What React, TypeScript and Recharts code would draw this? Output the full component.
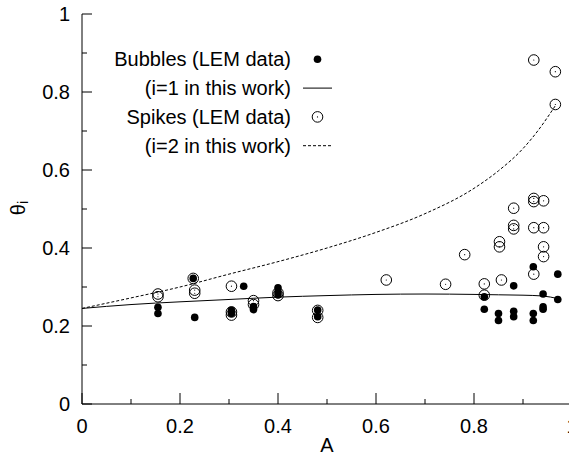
import { ComposedChart, Scatter, Line, XAxis, YAxis } from "recharts";

// ticks (minor every 0.1, labelled every 0.2)
const xTicks = [0, 0.1, 0.2, 0.3, 0.4, 0.5, 0.6, 0.7, 0.8, 0.9, 1];
const yTicks = [0, 0.1, 0.2, 0.3, 0.4, 0.5, 0.6, 0.7, 0.8, 0.9, 1];

// LEM data, bubbles
const bubbleA = [
  0.155, 0.155, 0.227, 0.23, 0.33, 0.305, 0.305, 0.35, 0.35, 0.4, 0.4, 0.4,
  0.481, 0.481, 0.821, 0.821, 0.85, 0.85, 0.881, 0.881, 0.881, 0.921, 0.921,
  0.921, 0.941, 0.941, 0.941, 0.971, 0.971,
];
const bubbleTheta = [
  0.248, 0.232, 0.322, 0.222, 0.302, 0.24, 0.232, 0.25, 0.242, 0.298, 0.288,
  0.28, 0.241, 0.224, 0.275, 0.243, 0.232, 0.214, 0.303, 0.238, 0.224, 0.352,
  0.232, 0.214, 0.282, 0.249, 0.243, 0.333, 0.268,
];

// LEM data, spikes
const spikeA = [
  0.155, 0.155, 0.227, 0.23, 0.23, 0.305, 0.305, 0.305, 0.35, 0.35, 0.4, 0.4,
  0.481, 0.481, 0.621, 0.742, 0.781, 0.821, 0.821, 0.852, 0.852, 0.856, 0.881,
  0.881, 0.881, 0.922, 0.922, 0.922, 0.922, 0.922, 0.942, 0.942, 0.942, 0.942,
  0.966, 0.966,
];
const spikeTheta = [
  0.282, 0.275, 0.322, 0.292, 0.284, 0.302, 0.236, 0.228, 0.265, 0.255, 0.285,
  0.278, 0.24, 0.222, 0.318, 0.307, 0.383, 0.308, 0.279, 0.416, 0.403, 0.318,
  0.502, 0.458, 0.449, 0.882, 0.527, 0.519, 0.452, 0.333, 0.521, 0.452, 0.403,
  0.378, 0.852, 0.768,
];

// model curves (this work)
const curve1A = [0, 0.1, 0.2, 0.3, 0.4, 0.5, 0.6, 0.7, 0.8, 0.85, 0.9, 0.94, 0.972];
const curve1Theta = [
  0.245, 0.255, 0.262, 0.268, 0.274, 0.278, 0.281, 0.282, 0.281, 0.28, 0.279,
  0.277, 0.27,
];
const curve2A = [0, 0.1, 0.2, 0.3, 0.4, 0.5, 0.6, 0.7, 0.8, 0.85, 0.9, 0.93, 0.966];
const curve2Theta = [
  0.245, 0.272, 0.3, 0.333, 0.365, 0.4, 0.44, 0.488, 0.553, 0.598, 0.655, 0.7,
  0.765,
];

const legendLabels = [
  "Bubbles (LEM data)",
  "(i=1 in this work)",
  "Spikes (LEM data)",
  "(i=2 in this work)",
];

const toRows = (a: number[], t: number[]) => a.map((v, i) => ({ a: v, t: t[i] }));

const bubbles = toRows(bubbleA, bubbleTheta);
const spikes = toRows(spikeA, spikeTheta);
const curve1 = toRows(curve1A, curve1Theta);
const curve2 = toRows(curve2A, curve2Theta);

const FONT = "'Liberation Sans', Arial, Helvetica, sans-serif";
const FS = 20;

const isMajor = (v: number) => Math.round(v * 10) % 2 === 0;
const fmt = (v: number) => (v === 0 || v === 1 ? String(v) : v.toFixed(1));

const LeftTick = (props: any) => {
  const { x, y, payload } = props;
  const ax = x + 12;
  const len = isMajor(payload.value) ? 10 : 5;
  return (
    <g>
      <line x1={ax} y1={y} x2={ax + len} y2={y} stroke="#000" />
      {isMajor(payload.value) && (
        <text x={x} y={y} dy="0.35em" textAnchor="end" fontFamily={FONT} fontSize={FS} fill="#000">
          {fmt(payload.value)}
        </text>
      )}
    </g>
  );
};

const RightTick = (props: any) => {
  const { x, y, payload } = props;
  const len = isMajor(payload.value) ? 10 : 5;
  return <line x1={x} y1={y} x2={x - len} y2={y} stroke="#000" />;
};

const BottomTick = (props: any) => {
  const { x, y, payload } = props;
  const ay = y - 22;
  const len = isMajor(payload.value) ? 11 : 5;
  return (
    <g>
      <line x1={x} y1={ay} x2={x} y2={ay - len} stroke="#000" />
      {isMajor(payload.value) && (
        <text x={x} y={y} dy="0.35em" textAnchor="middle" fontFamily={FONT} fontSize={FS} fill="#000">
          {fmt(payload.value)}
        </text>
      )}
    </g>
  );
};

const TopTick = (props: any) => {
  const { x, y, payload } = props;
  const len = isMajor(payload.value) ? 11 : 5;
  return <line x1={x} y1={y} x2={x} y2={y + len} stroke="#000" />;
};

const BubbleDot = (props: any) => {
  const { cx, cy } = props;
  return <circle cx={cx} cy={cy} r={3.8} fill="#000" />;
};

const SpikeDot = (props: any) => {
  const { cx, cy } = props;
  return (
    <g>
      <circle cx={cx} cy={cy} r={5.3} fill="none" stroke="#000" strokeWidth={1} />
      <circle cx={cx} cy={cy} r={0.6} fill="#000" />
    </g>
  );
};

// legend key, drawn inside the plot area (upper left)
const KeyBox = () => {
  const textRight = 291;
  const symX = 303;
  const rowTop = 59.3;
  const rowGap = 28.8;
  return (
    <g fontFamily={FONT} fontSize={FS} fill="#000">
      {legendLabels.map((label, i) => {
        const cy = rowTop + i * rowGap;
        return (
          <g key={label}>
            <text x={textRight} y={cy} dy="0.35em" textAnchor="end">
              {label}
            </text>
            {i === 0 && <BubbleDot cx={symX + 14.5} cy={cy} />}
            {i === 1 && <line x1={symX} y1={cy} x2={symX + 29} y2={cy} stroke="#000" />}
            {i === 2 && <SpikeDot cx={symX + 14.5} cy={cy} />}
            {i === 3 && (
              <line x1={symX} y1={cy} x2={symX + 29} y2={cy} stroke="#000" strokeDasharray="3 2" />
            )}
          </g>
        );
      })}
    </g>
  );
};

export default function App() {
  return (
    <div
      style={{
        position: "absolute",
        left: 0,
        top: 0,
        width: 569,
        height: 457,
        overflow: "hidden",
        background: "#fff",
      }}
    >
      <ComposedChart width={600} height={457} margin={{ top: 14, right: 28, bottom: 0, left: 0 }}>
        <XAxis
          xAxisId={0}
          dataKey="a"
          type="number"
          domain={[0, 1]}
          ticks={xTicks}
          interval={0}
          allowDataOverflow
          height={53}
          tickSize={0}
          tickMargin={22}
          tickLine={false}
          tick={<BottomTick />}
          axisLine={{ stroke: "#000" }}
        />
        <XAxis
          xAxisId="top"
          orientation="top"
          type="number"
          domain={[0, 1]}
          ticks={xTicks}
          interval={0}
          allowDataOverflow
          height={0}
          tickSize={0}
          tickMargin={0}
          tickLine={false}
          tick={<TopTick />}
          axisLine={{ stroke: "#000" }}
        />
        <YAxis
          yAxisId={0}
          dataKey="t"
          type="number"
          domain={[0, 1]}
          ticks={yTicks}
          interval={0}
          allowDataOverflow
          width={82}
          tickSize={0}
          tickMargin={12}
          tickLine={false}
          tick={<LeftTick />}
          axisLine={{ stroke: "#000" }}
        />
        <YAxis
          yAxisId="right"
          orientation="right"
          type="number"
          domain={[0, 1]}
          ticks={yTicks}
          interval={0}
          allowDataOverflow
          width={0}
          tickSize={0}
          tickMargin={0}
          tickLine={false}
          tick={<RightTick />}
          axisLine={{ stroke: "#000" }}
        />
        <Line
          data={curve1}
          dataKey="t"
          name={legendLabels[1]}
          type="monotone"
          stroke="#000"
          strokeWidth={1}
          dot={false}
          activeDot={false}
          isAnimationActive={false}
        />
        <Line
          data={curve2}
          dataKey="t"
          name={legendLabels[3]}
          type="monotone"
          stroke="#000"
          strokeWidth={1}
          strokeDasharray="3 2"
          dot={false}
          activeDot={false}
          isAnimationActive={false}
        />
        <Scatter
          data={bubbles}
          dataKey="t"
          name={legendLabels[0]}
          fill="#000"
          shape={<BubbleDot />}
          isAnimationActive={false}
        />
        <Scatter
          data={spikes}
          dataKey="t"
          name={legendLabels[2]}
          fill="none"
          shape={<SpikeDot />}
          isAnimationActive={false}
        />
        <KeyBox />
        <text
          x={18}
          y={208}
          transform="rotate(-90, 18, 208)"
          textAnchor="middle"
          dominantBaseline="central"
          fontFamily={FONT}
          fontSize={FS}
          fill="#000"
        >
          θ
          <tspan fontSize={14} dy={5}>
            i
          </tspan>
        </text>
        <text
          x={327}
          y={445}
          textAnchor="middle"
          dominantBaseline="central"
          fontFamily={FONT}
          fontSize={FS}
          fill="#000"
        >
          A
        </text>
      </ComposedChart>
    </div>
  );
}
